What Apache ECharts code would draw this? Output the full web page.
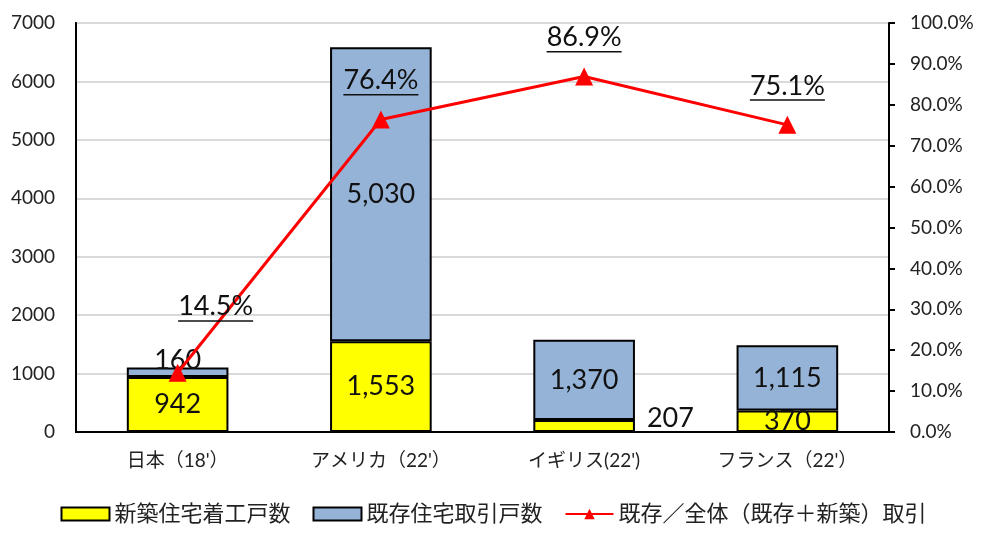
<!DOCTYPE html>
<html>
<head>
<meta charset="utf-8">
<script src="https://cdn.jsdelivr.net/npm/echarts@6/dist/echarts.min.js"></script>
<style>
  html, body { margin: 0; padding: 0; background: #fff; }
  #chart { width: 987px; height: 544px; }
</style>
</head>
<body>
<div id="chart"></div>
<script>
var categories = ['日本（18\'）', 'アメリカ（22\'）', 'イギリス(22\')', 'フランス（22\'）'];
var newBuilt = [942, 1553, 207, 370];
var existing = [160, 5030, 1370, 1115];
var existingShare = [14.5, 76.4, 86.9, 75.1];
var seriesNames = ['新築住宅着工戸数', '既存住宅取引戸数', '既存／全体（既存＋新築）取引'];

var FONT = "Lato, 'Noto Sans CJK JP', sans-serif";

function fmtNum(v) {
    return v.toLocaleString('en-US');
}

/**
 * Builds the data items of the new-construction bars, moving the label
 * out of the bar when the segment is too thin to hold it.
 */
function newBuiltData() {
    var out = [];
    for (var i = 0; i < newBuilt.length; i++) {
        var item = { value: newBuilt[i] };
        if (newBuilt[i] < 300) {
            item.label = { position: 'right', distance: 12, offset: [0, -8] };
        }
        out.push(item);
    }
    return out;
}

function existingData() {
    var out = [];
    for (var i = 0; i < existing.length; i++) {
        var item = { value: existing[i] };
        if (existing[i] < 300) {
            item.label = { position: 'top', distance: 0, offset: [0, 6] };
        }
        out.push(item);
    }
    return out;
}

function shareData() {
    var out = [];
    for (var i = 0; i < existingShare.length; i++) {
        var item = { value: existingShare[i] };
        if (i === 0) {
            item.label = { offset: [38, -37] };
        }
        out.push(item);
    }
    return out;
}

var chart = echarts.init(document.getElementById('chart'));

var options = {
    animation: false,
    textStyle: { fontFamily: FONT },
    grid: {
        left: 76,
        right: 98,
        top: 23,
        bottom: 112,
        show: true,
        borderColor: '#000',
        borderWidth: 2
    },
    legend: {
        data: [
            { name: seriesNames[0], icon: 'rect' },
            { name: seriesNames[1], icon: 'rect' },
            { name: seriesNames[2] }
        ],
        bottom: 14,
        left: 'center',
        itemWidth: 48,
        itemHeight: 13,
        itemGap: 22,
        textStyle: { fontSize: 22, color: '#222', fontFamily: FONT }
    },
    xAxis: [{
        type: 'category',
        data: categories,
        axisLine: { lineStyle: { color: '#000', width: 2 } },
        axisTick: { show: false },
        axisLabel: { fontSize: 19, color: '#222', margin: 19 }
    }],
    yAxis: [{
        type: 'value',
        min: 0,
        max: 7000,
        interval: 1000,
        axisLine: { show: true, lineStyle: { color: '#000', width: 2 } },
        axisTick: { show: false },
        axisLabel: {
            fontSize: 19, color: '#222', margin: 21,
            formatter: function (v) { return String(v); }
        },
        splitLine: { lineStyle: { color: '#d9d9d9', width: 2 } }
    }, {
        type: 'value',
        min: 0,
        max: 100,
        interval: 10,
        position: 'right',
        axisLine: { show: true, lineStyle: { color: '#000', width: 2 } },
        axisTick: { show: true, inside: false, length: 6, lineStyle: { color: '#000', width: 2 } },
        axisLabel: {
            fontSize: 19, color: '#222', margin: 21,
            formatter: function (v) { return v.toFixed(1) + '%'; }
        },
        splitLine: { show: false }
    }],
    series: [{
        name: seriesNames[0],
        type: 'bar',
        stack: 'houses',
        barWidth: '50%',
        itemStyle: { color: '#ffff00', borderColor: '#000', borderWidth: 2 },
        label: {
            show: true, position: 'inside', fontSize: 27, color: '#111',
            formatter: function (p) { return fmtNum(p.value); }
        },
        data: newBuiltData()
    }, {
        name: seriesNames[1],
        type: 'bar',
        stack: 'houses',
        barWidth: '50%',
        itemStyle: { color: '#95b3d7', borderColor: '#000', borderWidth: 2 },
        label: {
            show: true, position: 'inside', fontSize: 27, color: '#111',
            formatter: function (p) { return fmtNum(p.value); }
        },
        data: existingData()
    }, {
        name: seriesNames[2],
        type: 'line',
        yAxisIndex: 1,
        z: 5,
        symbol: 'triangle',
        symbolSize: 18,
        lineStyle: { color: '#ff0000', width: 3 },
        itemStyle: { color: '#ff0000' },
        label: {
            show: true,
            position: 'top',
            distance: 5,
            offset: [0, -10],
            formatter: function (p) { return '{v|' + p.value.toFixed(1) + '%}\n{u|}'; },
            rich: {
                v: { fontSize: 27, color: '#111', fontFamily: FONT, lineHeight: 27, align: 'center' },
                u: { width: 75, height: 1.5, backgroundColor: '#111', align: 'center' }
            }
        },
        data: shareData()
    }]
};

chart.setOption(options);
chart.resize();
window.onresize = function () {
    chart.resize();
};
</script>
</body>
</html>
